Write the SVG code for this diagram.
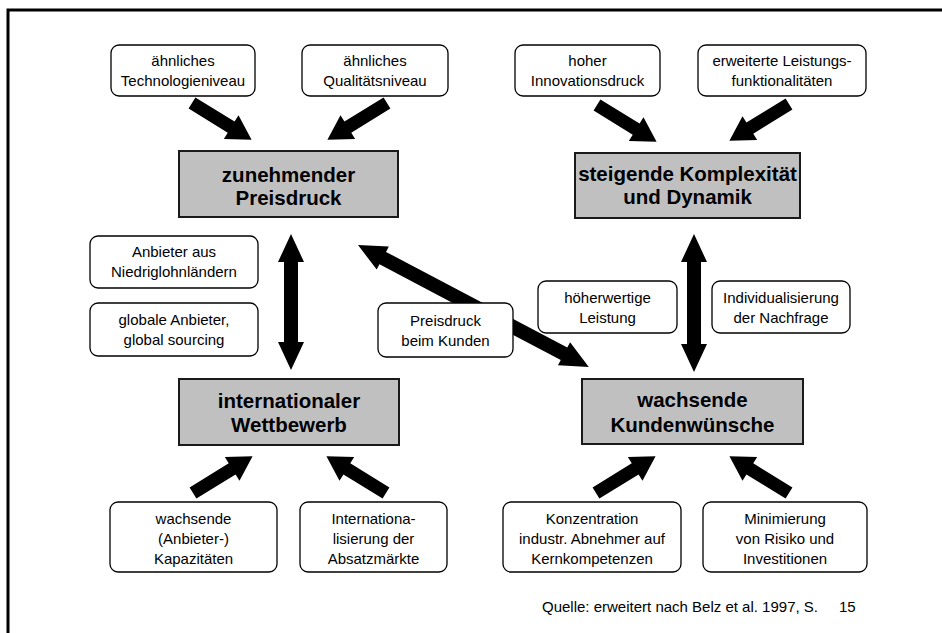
<svg xmlns="http://www.w3.org/2000/svg" xmlns:xlink="http://www.w3.org/1999/xlink" width="942" height="633" viewBox="0 0 942 633">
<style>
.box{fill:#fff;stroke:#000;stroke-width:1.3}
.main{fill:#c0c0c0;stroke:#1a1a1a;stroke-width:2}
.t{font-family:"Liberation Sans",Arial,sans-serif;font-size:15px;text-anchor:middle;fill:#000}
.b{font-family:"Liberation Sans",Arial,sans-serif;font-size:20.5px;font-weight:bold;text-anchor:middle;fill:#000}
.src{font-family:"Liberation Sans",Arial,sans-serif;font-size:15px;fill:#000}
.arr{fill:#000;stroke:none}
.frame{fill:none;stroke:#000;stroke-width:3}
</style>
<defs>
<path id="sa" d="M0,-6.5 L46,-6.5 L46,-14 L70,0 L46,14 L46,6.5 L0,6.5 Z"/>
</defs>
<rect width="942" height="633" fill="#fff"/>
<path class="frame" d="M8,633 L8,10 L942,10"/>

<g id="connectors" class="arr">
<use xlink:href="#sa" href="#sa" transform="translate(192,103) rotate(31.66)"/>
<use xlink:href="#sa" href="#sa" transform="translate(387,103) rotate(148.34)"/>
<use xlink:href="#sa" href="#sa" transform="translate(597,105) rotate(31.66)"/>
<use xlink:href="#sa" href="#sa" transform="translate(789,104) rotate(148.34)"/>
<use xlink:href="#sa" href="#sa" transform="translate(193,493) rotate(-31.66)"/>
<use xlink:href="#sa" href="#sa" transform="translate(386,493) rotate(-148.34)"/>
<use xlink:href="#sa" href="#sa" transform="translate(596,493) rotate(-31.66)"/>
<use xlink:href="#sa" href="#sa" transform="translate(789,493) rotate(-148.34)"/>
<path d="M291,234 L304,262 L298,262 L298,342 L304,342 L291,370 L278,342 L284,342 L284,262 L278,262 Z"/>
<path d="M694,234 L707,262 L701,262 L701,344 L707,344 L694,372 L681,344 L687,344 L687,262 L681,262 Z"/>
<path transform="translate(358,245) rotate(27.84)" d="M0,0 L28,-13 L28,-7 L233,-7 L233,-13 L261,0 L233,13 L233,7 L28,7 L28,13 Z"/>
</g>

<g id="n-technologie"><rect class="box" x="111" y="45" width="144" height="51" rx="8"/>
<text class="t" x="183" y="66">ähnliches</text><text class="t" x="183" y="86">Technologieniveau</text></g>
<g id="n-qualitaet"><rect class="box" x="302" y="45" width="146" height="51" rx="8"/>
<text class="t" x="375" y="66">ähnliches</text><text class="t" x="375" y="86">Qualitätsniveau</text></g>
<g id="n-innovation"><rect class="box" x="515" y="45" width="145" height="51" rx="8"/>
<text class="t" x="587.5" y="66">hoher</text><text class="t" x="587.5" y="86">Innovationsdruck</text></g>
<g id="n-leistung"><rect class="box" x="698" y="45" width="168" height="51" rx="8"/>
<text class="t" x="782" y="66">erweiterte Leistungs-</text><text class="t" x="782" y="86">funktionalitäten</text></g>

<g id="n-preisdruck"><rect class="main" x="179" y="151" width="219" height="66"/>
<text class="b" x="288.5" y="182">zunehmender</text><text class="b" x="288.5" y="205">Preisdruck</text></g>
<g id="n-komplex"><rect class="main" x="575" y="153" width="225" height="65"/>
<text class="b" x="687.5" y="181">steigende Komplexität</text><text class="b" x="687.5" y="204">und Dynamik</text></g>

<g id="n-niedriglohn"><rect class="box" x="90" y="236" width="168" height="52" rx="8"/>
<text class="t" x="174" y="257">Anbieter aus</text><text class="t" x="174" y="277">Niedriglohnländern</text></g>
<g id="n-global"><rect class="box" x="90" y="303" width="168" height="53" rx="8"/>
<text class="t" x="174" y="325">globale Anbieter,</text><text class="t" x="174" y="345">global sourcing</text></g>
<g id="n-kunden"><rect class="box" x="378" y="303" width="135" height="54" rx="8"/>
<text class="t" x="445.5" y="326">Preisdruck</text><text class="t" x="445.5" y="346">beim Kunden</text></g>
<g id="n-hoeher"><rect class="box" x="538" y="281" width="139" height="52" rx="8"/>
<text class="t" x="607.5" y="303">höherwertige</text><text class="t" x="607.5" y="323">Leistung</text></g>
<g id="n-individual"><rect class="box" x="712" y="281" width="138" height="52" rx="8"/>
<text class="t" x="781" y="303">Individualisierung</text><text class="t" x="781" y="323">der Nachfrage</text></g>

<g id="n-wettbewerb"><rect class="main" x="179" y="379" width="220" height="66"/>
<text class="b" x="289" y="408">internationaler</text><text class="b" x="289" y="432">Wettbewerb</text></g>
<g id="n-kundenwuensche"><rect class="main" x="582" y="379" width="221" height="65"/>
<text class="b" x="692.5" y="407">wachsende</text><text class="b" x="692.5" y="432">Kundenwünsche</text></g>

<g id="n-kapazitaeten"><rect class="box" x="110" y="502" width="167" height="70" rx="8"/>
<text class="t" x="193.5" y="524">wachsende</text><text class="t" x="193.5" y="544">(Anbieter-)</text><text class="t" x="193.5" y="564">Kapazitäten</text></g>
<g id="n-absatz"><rect class="box" x="300" y="502" width="147" height="70" rx="8"/>
<text class="t" x="373.5" y="524">Internationa-</text><text class="t" x="373.5" y="544">lisierung der</text><text class="t" x="373.5" y="564">Absatzmärkte</text></g>
<g id="n-konzentration"><rect class="box" x="503" y="502" width="178" height="70" rx="8"/>
<text class="t" x="592" y="524">Konzentration</text><text class="t" x="592" y="544">industr. Abnehmer auf</text><text class="t" x="592" y="564">Kernkompetenzen</text></g>
<g id="n-risiko"><rect class="box" x="703" y="502" width="164" height="70" rx="8"/>
<text class="t" x="785" y="524">Minimierung</text><text class="t" x="785" y="544">von Risiko und</text><text class="t" x="785" y="564">Investitionen</text></g>

<text class="src" x="542" y="612">Quelle: erweitert nach Belz et al. 1997, S.<tspan x="839">15</tspan></text>
</svg>
